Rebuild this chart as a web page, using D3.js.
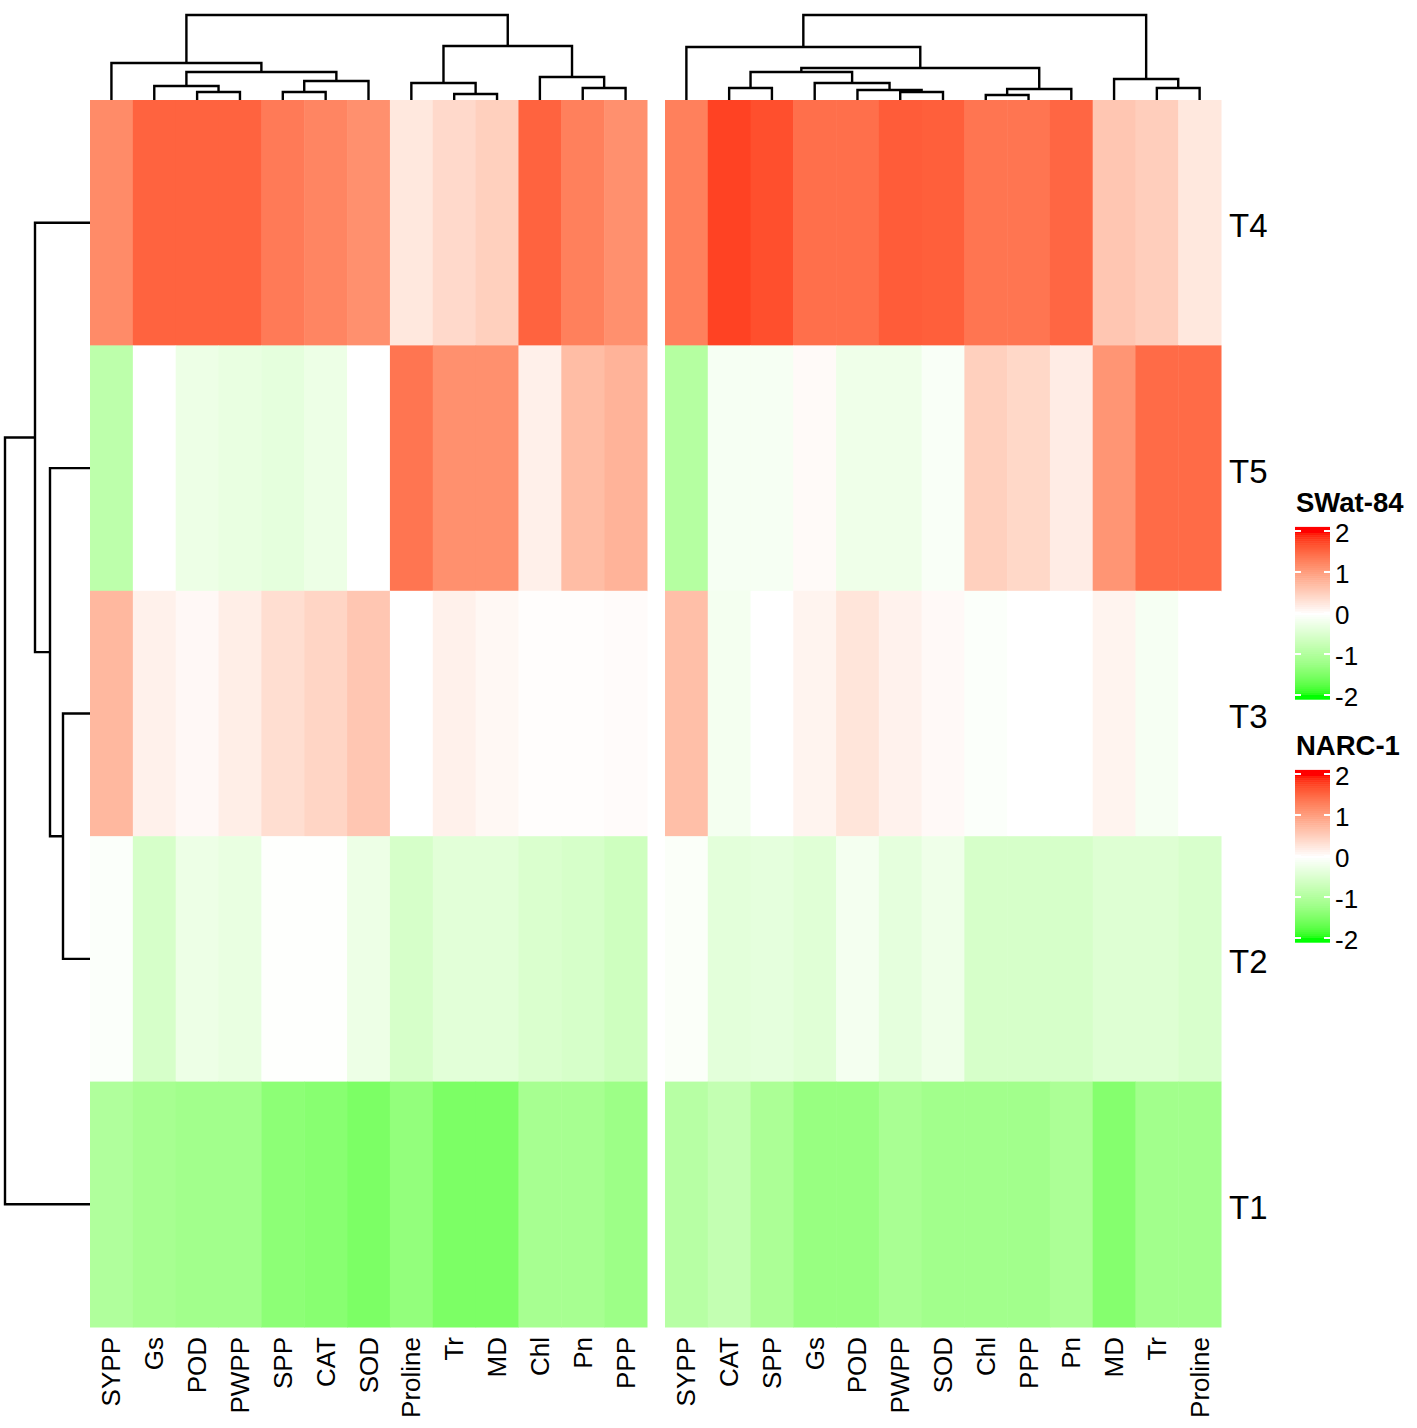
<!DOCTYPE html>
<html>
<head>
<meta charset="utf-8">
<script src="https://cdn.jsdelivr.net/npm/d3@7"></script>
<style>
    body { margin: 0; background: #ffffff; }
    text { font-family: "Liberation Sans", Arial, sans-serif; fill: #000; }
</style>
</head>
<body>
<svg id="heat"></svg>
<script>
// two heatmaps (SWat-84 and NARC-1) sharing the same row clustering
var rows = ["T4", "T5", "T3", "T2", "T1"]

var colsSWat = ["SYPP", "Gs", "POD", "PWPP", "SPP", "CAT", "SOD", "Proline", "Tr", "MD", "Chl", "Pn", "PPP"]
var valsSWat = [
    [1.2, 1.55, 1.55, 1.55, 1.35, 1.25, 1.15, 0.25, 0.4, 0.5, 1.55, 1.3, 1.15],
    [-0.85, 0.0, -0.25, -0.3, -0.35, -0.25, 0.0, 1.4, 1.15, 1.15, 0.16, 0.7, 0.8],
    [0.75, 0.15, 0.07, 0.18, 0.35, 0.45, 0.6, 0.0, 0.15, 0.08, 0.02, 0.02, 0.04],
    [-0.05, -0.55, -0.25, -0.3, -0.02, -0.02, -0.25, -0.55, -0.4, -0.4, -0.5, -0.55, -0.65],
    [-1.0, -1.1, -1.15, -1.15, -1.35, -1.4, -1.5, -1.3, -1.5, -1.5, -1.1, -1.1, -1.2]
]

var colsNARC = ["SYPP", "CAT", "SPP", "Gs", "POD", "PWPP", "SOD", "Chl", "PPP", "Pn", "MD", "Tr", "Proline"]
var valsNARC = [
    [1.3, 1.78, 1.7, 1.45, 1.45, 1.6, 1.58, 1.4, 1.4, 1.52, 0.6, 0.52, 0.25],
    [-0.95, -0.12, -0.12, 0.05, -0.22, -0.22, -0.08, 0.5, 0.42, 0.2, 1.1, 1.48, 1.48],
    [0.68, -0.15, 0.0, 0.12, 0.28, 0.14, 0.06, -0.05, 0.0, 0.0, 0.12, -0.12, 0.0],
    [-0.06, -0.38, -0.35, -0.42, -0.15, -0.35, -0.22, -0.55, -0.55, -0.55, -0.45, -0.45, -0.52],
    [-0.92, -0.78, -1.05, -1.25, -1.25, -1.08, -1.15, -1.15, -1.15, -1.05, -1.42, -1.15, -1.15]
]

// hclust style merges: [a, b, height], a number points to an earlier merge
var rowMerges = [["T3", "T2", 2.7], ["T5", 0, 4.0], ["T4", 1, 5.5], [2, "T1", 8.5]]
var mergesSWat = [
    ["POD", "PWPP", 0.8], ["Gs", 0, 1.4], ["SPP", "CAT", 0.8], [2, "SOD", 1.9], [1, 3, 2.8], ["SYPP", 4, 3.7],
    ["Tr", "MD", 0.6], ["Proline", 6, 1.7], ["Pn", "PPP", 1.2], ["Chl", 8, 2.3], [7, 9, 5.4], [5, 10, 8.5]
]
var mergesNARC = [
    ["CAT", "SPP", 1.2], ["PWPP", "SOD", 0.8], ["POD", 1, 1.0], ["Gs", 2, 1.7], [0, 3, 2.8],
    ["Chl", "PPP", 0.5], [5, "Pn", 1.1], [4, 6, 3.2], ["SYPP", 7, 5.3],
    ["Tr", "Proline", 1.2], ["MD", 9, 2.1], [8, 10, 8.5]
]

var legendTicks = [2, 1, 0, -1, -2]

var dimensions = {
    width: 1417,
    height: 1428,
    top: 100,
    bottom: 1327
}

var svg = d3.select("#heat")
    .attr("width", dimensions.width)
    .attr("height", dimensions.height)

var colorScale = d3.scaleLinear()
    .domain([-2, 0, 2])
    .range(["#00ff00", "#ffffff", "#ff0000"])
    .interpolate(d3.interpolateLab)
    .clamp(true)

var yScale = d3.scaleBand()
    .domain(rows)
    .range([dimensions.top, dimensions.bottom])

// shared dendrogram helper, works out node positions from the merges
function layoutTree(merges, leafPos) {
    var nodes = []
    function get(ref) {
        if (typeof ref === "number") return nodes[ref]
        return { pos: leafPos(ref), h: 0 }
    }
    var segs = []
    merges.forEach(function (m) {
        var a = get(m[0]), b = get(m[1])
        segs.push({ a: a, b: b, h: m[2] })
        nodes.push({ pos: (a.pos + b.pos) / 2, h: m[2] })
    })
    return segs
}

function drawHeatmap(cols, vals, merges, x0, x1) {
    var xScale = d3.scaleBand()
        .domain(cols)
        .range([x0, x1])

    var cells = []
    vals.forEach(function (r, i) {
        r.forEach(function (v, j) {
            cells.push({ row: rows[i], col: cols[j], value: v })
        })
    })

    svg.append("g")
        .selectAll("rect")
        .data(cells)
        .enter()
        .append("rect")
        .attr("x", d => xScale(d.col))
        .attr("y", d => yScale(d.row))
        .attr("width", xScale.bandwidth() + 0.5)
        .attr("height", yScale.bandwidth() + 0.5)
        .attr("fill", d => colorScale(d.value))

    // column labels, rotated
    svg.append("g")
        .selectAll("text")
        .data(cols)
        .enter()
        .append("text")
        .attr("transform", d => "translate(" + (xScale(d) + xScale.bandwidth() / 2) + "," + (dimensions.bottom + 10) + ")rotate(-90)")
        .attr("text-anchor", "end")
        .attr("dominant-baseline", "central")
        .style("font-size", "26px")
        .text(d => d)

    // column dendrogram
    var hScale = d3.scaleLinear().domain([0, 8.5]).range([dimensions.top, 15])
    var segs = layoutTree(merges, d => xScale(d) + xScale.bandwidth() / 2)
    svg.append("g")
        .selectAll("path")
        .data(segs)
        .enter()
        .append("path")
        .attr("d", s => "M" + s.a.pos + "," + hScale(s.a.h) + "V" + hScale(s.h) + "H" + s.b.pos + "V" + hScale(s.b.h))
        .attr("fill", "none")
        .attr("stroke", "#000")
        .attr("stroke-width", 2.4)
}

drawHeatmap(colsSWat, valsSWat, mergesSWat, 90, 647)
drawHeatmap(colsNARC, valsNARC, mergesNARC, 665, 1221)

// row dendrogram on the left
var rowH = d3.scaleLinear().domain([0, 8.5]).range([90, 5])
var rowSegs = layoutTree(rowMerges, d => yScale(d) + yScale.bandwidth() / 2)
svg.append("g")
    .selectAll("path")
    .data(rowSegs)
    .enter()
    .append("path")
    .attr("d", s => "M" + rowH(s.a.h) + "," + s.a.pos + "H" + rowH(s.h) + "V" + s.b.pos + "H" + rowH(s.b.h))
    .attr("fill", "none")
    .attr("stroke", "#000")
    .attr("stroke-width", 2.4)

// row labels
svg.append("g")
    .selectAll("text")
    .data(rows)
    .enter()
    .append("text")
    .attr("x", 1229)
    .attr("y", d => yScale(d) + yScale.bandwidth() / 2 + 3)
    .attr("dominant-baseline", "central")
    .style("font-size", "33px")
    .text(d => d)

// colour legends
function drawLegend(title, top) {
    var g = svg.append("g")
    g.append("text")
        .attr("x", 1296)
        .attr("y", top)
        .style("font-size", "27.5px")
        .style("font-weight", "bold")
        .text(title)

    var ls = d3.scaleLinear().domain([2, -2]).range([top + 19, top + 183])
    var steps = d3.range(2.1, -2.1, -0.05)
    g.selectAll("rect")
        .data(steps)
        .enter()
        .append("rect")
        .attr("x", 1295)
        .attr("y", d => ls(d))
        .attr("width", 35)
        .attr("height", ls(0) - ls(0.05) + 0.6)
        .attr("fill", d => colorScale(d))

    legendTicks.forEach(function (t) {
        g.append("line").attr("x1", 1295).attr("x2", 1301).attr("y1", ls(t)).attr("y2", ls(t))
            .attr("stroke", "#fff").attr("stroke-width", 2)
        g.append("line").attr("x1", 1324).attr("x2", 1330).attr("y1", ls(t)).attr("y2", ls(t))
            .attr("stroke", "#fff").attr("stroke-width", 2)
    })

    g.selectAll(".tick")
        .data(legendTicks)
        .enter()
        .append("text")
        .attr("class", "tick")
        .attr("x", 1335)
        .attr("y", d => ls(d) + 2)
        .attr("dominant-baseline", "central")
        .style("font-size", "26px")
        .text(d => d)
}

drawLegend("SWat-84", 512)
drawLegend("NARC-1", 755)
</script>
</body>
</html>
